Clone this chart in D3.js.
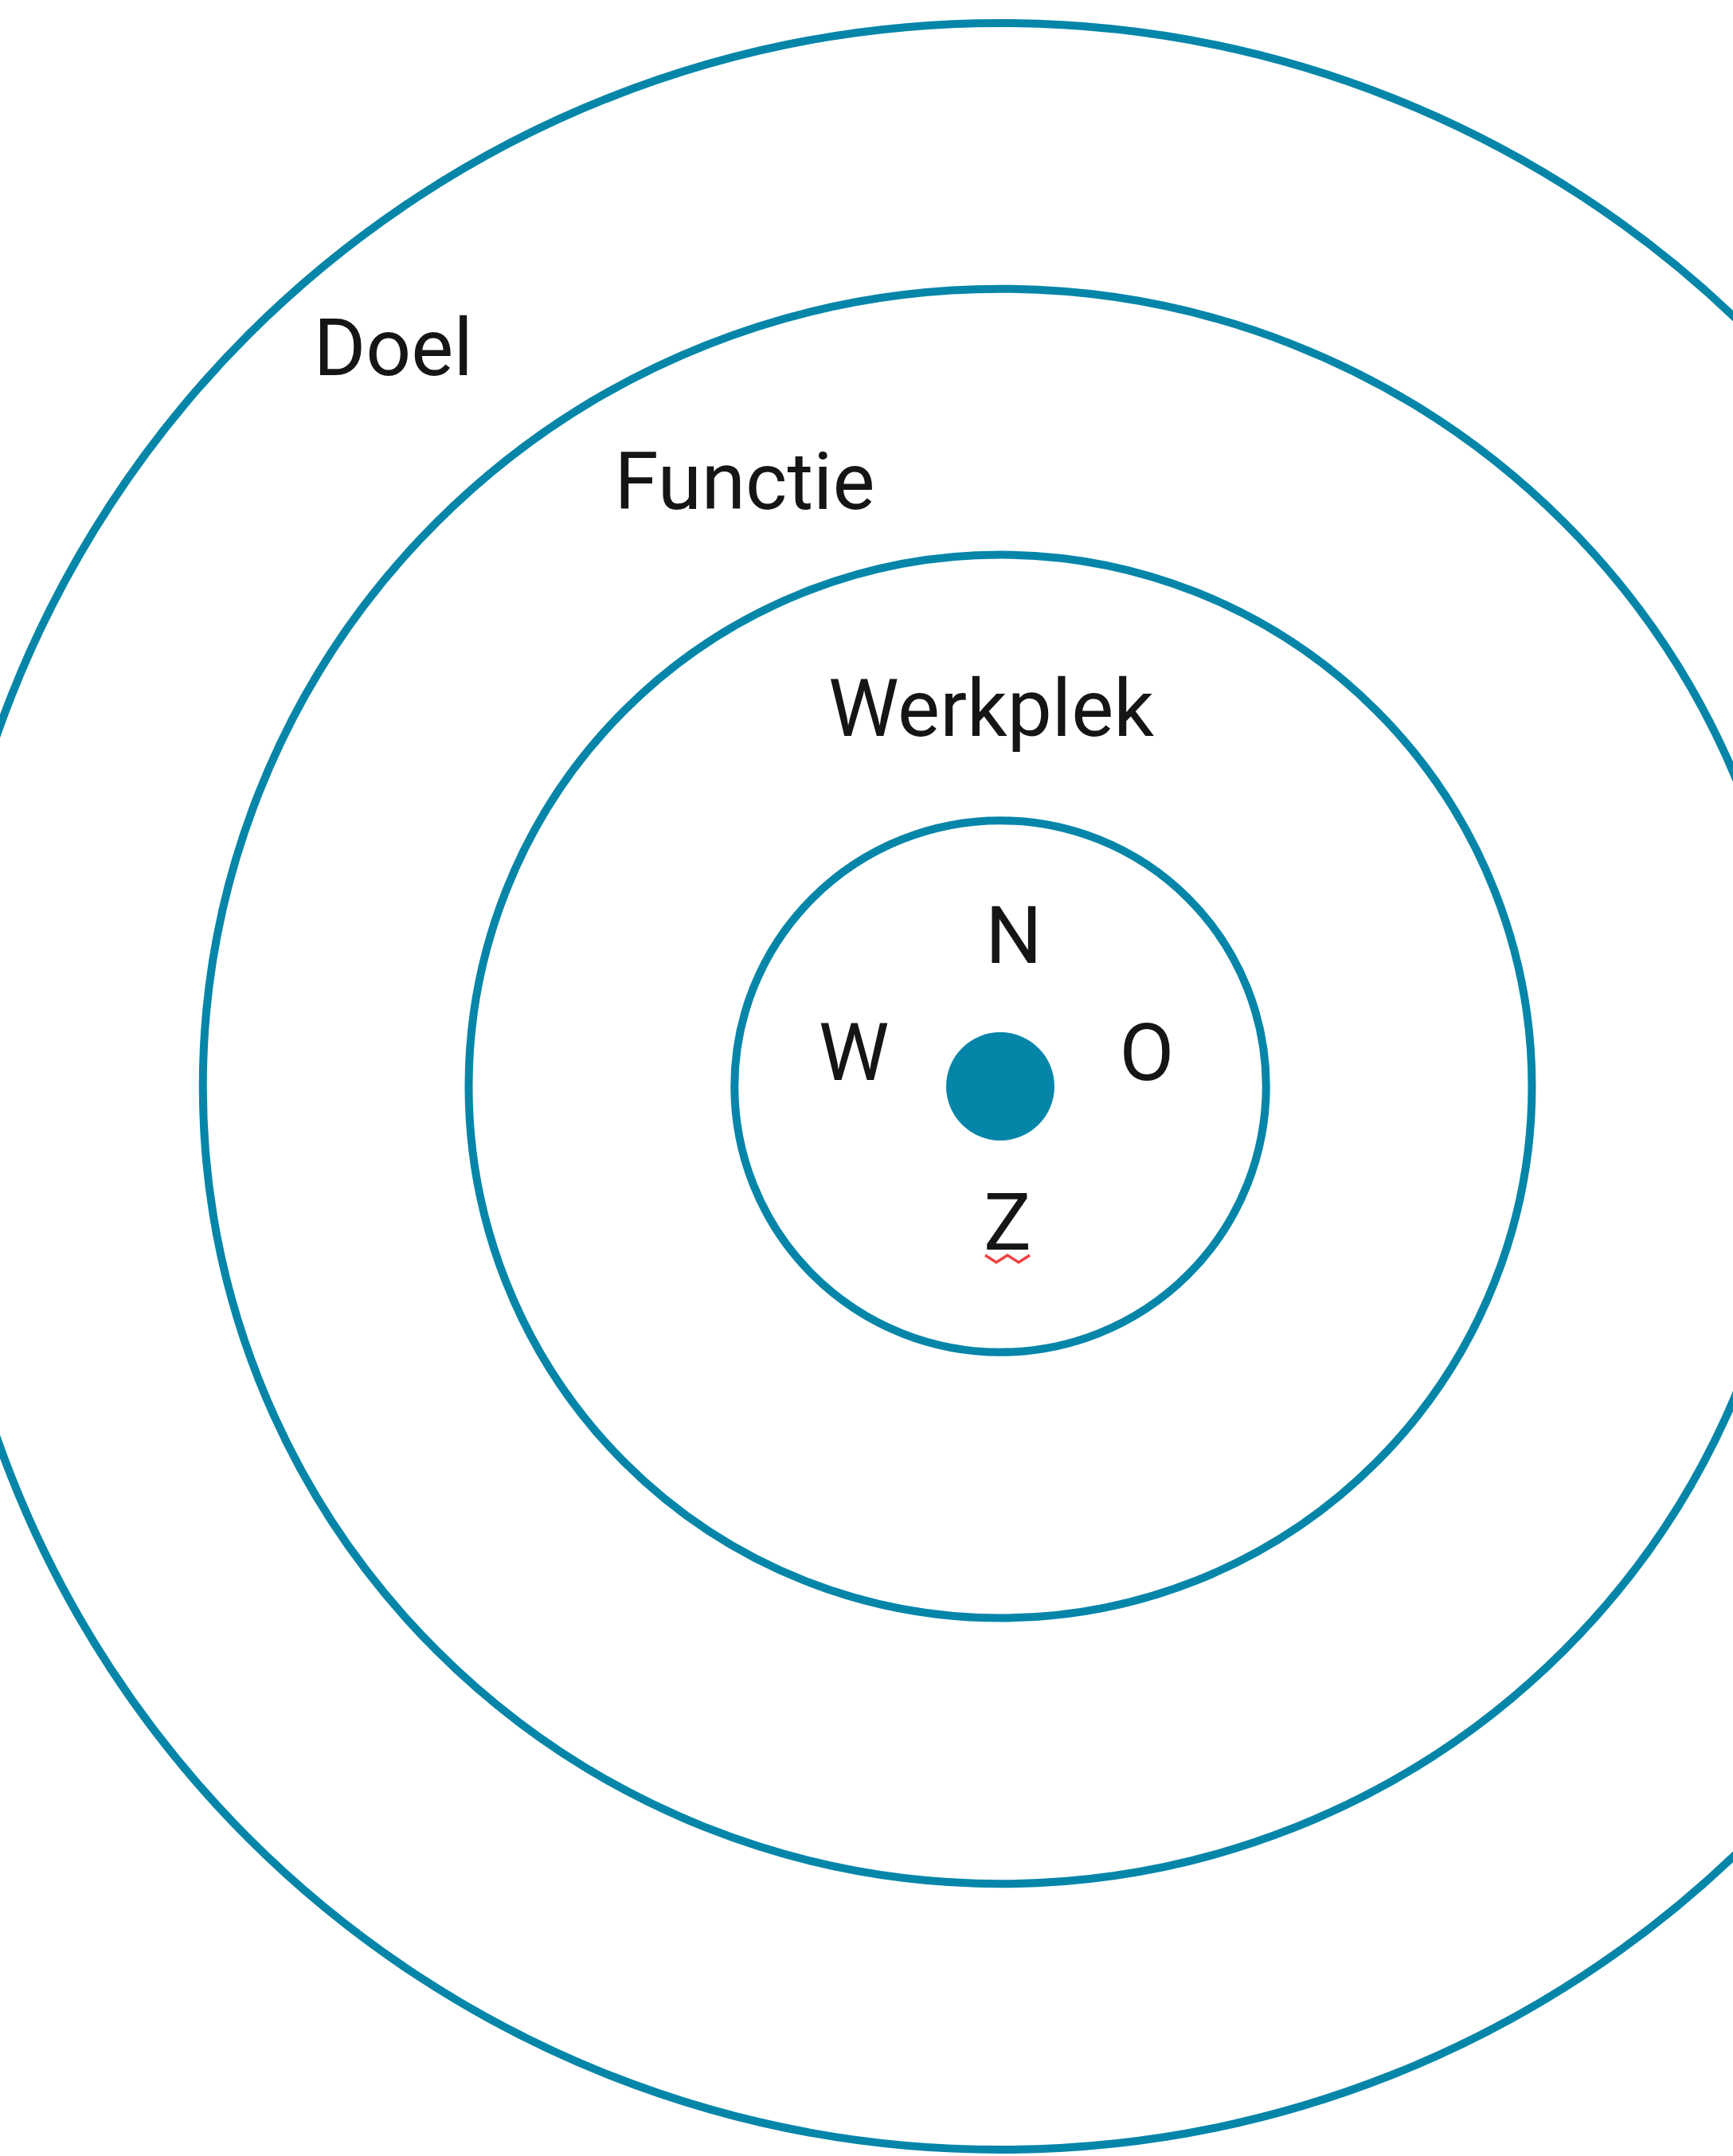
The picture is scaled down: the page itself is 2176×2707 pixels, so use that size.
<!DOCTYPE html>
<html>
<head>
<meta charset="utf-8">
<script src="https://cdn.jsdelivr.net/npm/d3@7"></script>
<style>
  html, body { margin: 0; padding: 0; background: #fff; overflow: hidden; }
  svg { display: block; }
  text { font-family: Roboto, "Noto Sans", sans-serif; fill: #151515; }
</style>
</head>
<body>
<svg id="chart"></svg>
<script>
// rings, outer to inner
const rings = [4, 3, 2, 1];
const ringLabels = ['Doel', 'Functie', 'Werkplek'];
const directions = ['N', 'O', 'Z', 'W'];

const width = 2176, height = 2707;
const cx = 1256, cy = 1364;
const teal = '#0586a9';

const svg = d3.select('#chart').attr('width', width).attr('height', height);
const g = svg.append('g').attr('transform', `translate(${cx},${cy})`);

const r = d3.scaleLinear().domain([0, 4]).range([0, 1335]);

g.selectAll('.ring')
  .data(rings)
  .enter().append('circle')
    .attr('class', 'ring')
    .attr('r', d => r(d))
    .attr('fill', 'none')
    .attr('stroke', teal)
    .attr('stroke-width', 10);

g.append('circle')
  .attr('r', 68)
  .attr('fill', teal);

// band labels, placed between a ring and the next one in
const labelAngle = [39.4, 22.9, 1.4];
const labelDist = [1201, 825, 475];
g.selectAll('.band')
  .data(ringLabels)
  .enter().append('text')
    .attr('class', 'band')
    .attr('x', (d, i) => -Math.sin(labelAngle[i] * Math.PI / 180) * labelDist[i])
    .attr('y', (d, i) => -Math.cos(labelAngle[i] * Math.PI / 180) * labelDist[i])
    .attr('dy', '0.35em')
    .attr('text-anchor', 'middle')
    .style('font-size', '100px')
    .text(d => d);

// compass letters round the centre dot
const dirAngle = d3.scalePoint().domain(directions).range([0, 270]);
const dirShift = { N: [17, 0], O: [0, -33], Z: [9, 0], W: [0, -33] };
g.selectAll('.dir')
  .data(directions)
  .enter().append('text')
    .attr('class', 'dir')
    .attr('x', d => Math.sin(dirAngle(d) * Math.PI / 180) * 184 + dirShift[d][0])
    .attr('y', d => -Math.cos(dirAngle(d) * Math.PI / 180) * 180 - 10 + dirShift[d][1])
    .attr('dy', '0.35em')
    .attr('text-anchor', 'middle')
    .style('font-size', '100px')
    .text(d => d);

// spell-check squiggle under the Z
const zx = 9, zy = 212;
const squiggle = d3.range(0, 5).map(i => [zx - 28 + i * 14, zy + (i % 2 ? 9 : 0)]);
g.append('path')
  .attr('d', d3.line()(squiggle))
  .attr('fill', 'none')
  .attr('stroke', '#f04040')
  .attr('stroke-width', 3.5);
</script>
</body>
</html>
